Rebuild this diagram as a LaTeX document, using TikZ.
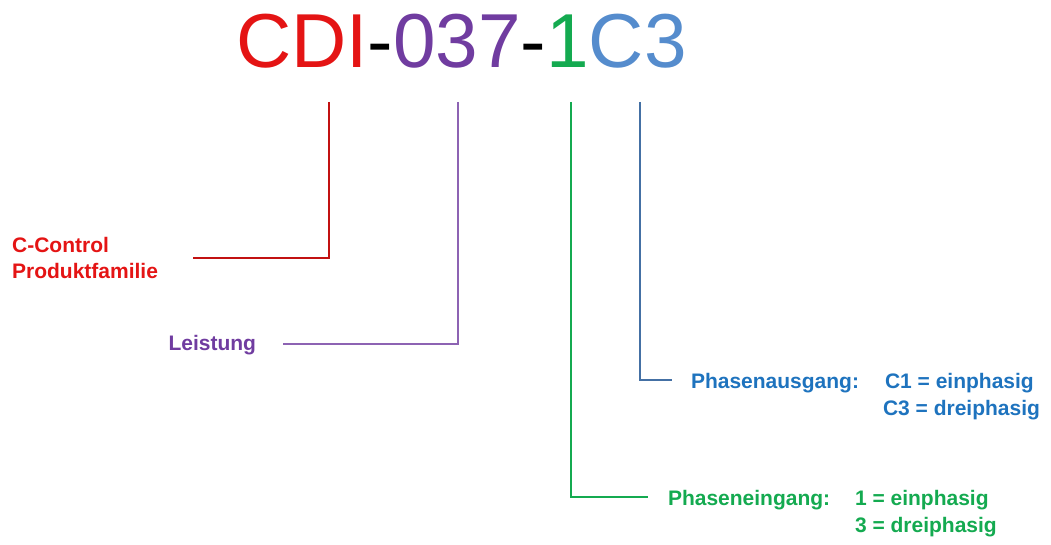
\documentclass[tikz,border=0pt]{standalone}
\usepackage{fontspec}
\setmainfont{Liberation Sans}
\usetikzlibrary{positioning}
\definecolor{cdi_red}{RGB}{228, 20, 20}
\definecolor{cdi_purple}{RGB}{112, 60, 160}
\definecolor{cdi_green}{RGB}{20, 170, 80}
\definecolor{cdi_blue}{RGB}{85, 140, 205}
\definecolor{lbl_blue}{RGB}{30, 115, 190}
\tikzstyle{title}=[inner sep=0pt,outer sep=0pt,font=\fontsize{76.5}{80}\selectfont]
\tikzstyle{lbl}=[inner sep=0pt,outer sep=0pt,anchor=base west,
  font=\fontsize{21}{26}\selectfont\bfseries]
\tikzstyle{conn}=[line width=2.2pt]

\begin{document}
\begin{tikzpicture}[x=1pt,y=-1pt]
        \useasboundingbox (0,0) rectangle (1051,545);
        % type code
        \node[style=title,anchor=base west,text=cdi_red] (cdi) at (236,68) {CDI};
        \node[style=title,base right=0pt of cdi] (dash1) {-};
        \node[style=title,base right=0pt of dash1,text=cdi_purple] (power) {037};
        \node[style=title,base right=0pt of power] (dash2) {-};
        \node[style=title,base right=0pt of dash2,text=cdi_green] (phin) {1};
        \node[style=title,base right=0pt of phin,text=cdi_blue] (phout) {C3};
        % line ends
        \coordinate (r0) at (329,102);
        \coordinate (r1) at (193,258);
        \coordinate (p0) at (458,102);
        \coordinate (p1) at (283,344);
        \coordinate (g0) at (571,102);
        \coordinate (g1) at (648,497);
        \coordinate (b0) at (640,102);
        \coordinate (b1) at (672,380);
        % labels
        \node[style=lbl,anchor=east,align=left,text=cdi_red] (family) at (158,258)
          {C-Control\\Produktfamilie};
        \node[style=lbl,anchor=base east,text=cdi_purple] (leistung) at (256,350) {Leistung};
        \node[style=lbl,text=lbl_blue] (ausgang) at (691,388) {Phasenausgang:};
        \node[style=lbl,text=lbl_blue] (aus1) at (885,388) {C1 = einphasig};
        \node[style=lbl,text=lbl_blue] (aus3) at (883,415) {C3 = dreiphasig};
        \node[style=lbl,text=cdi_green] (eingang) at (668,505) {Phaseneingang:};
        \node[style=lbl,text=cdi_green] (ein1) at (855,505) {1 = einphasig};
        \node[style=lbl,text=cdi_green] (ein3) at (855,532) {3 = dreiphasig};
        % connectors
        \draw[style=conn,draw=cdi_red!85!black] (r0) |- (r1);
        \draw[style=conn,draw=cdi_purple!80] (p0) |- (p1);
        \draw[style=conn,draw=cdi_green] (g0) |- (g1);
        \draw[style=conn,draw=cdi_blue!80!black] (b0) |- (b1);
    \end{tikzpicture}
\end{document}
